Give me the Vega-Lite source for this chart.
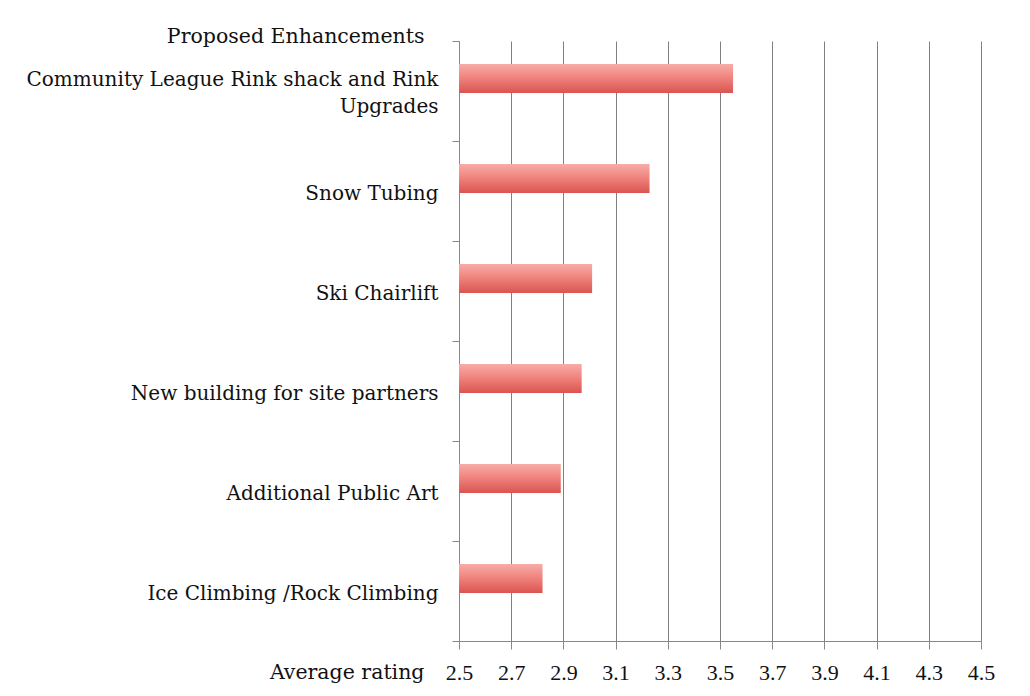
{
  "$schema": "https://vega.github.io/schema/vega-lite/v6.json",
  "width": 522,
  "height": 600,
  "autosize": "none",
  "padding": {"left": 459, "top": 41, "right": 49, "bottom": 55},
  "background": "white",
  "data": {
    "values": [
      {"enhancement": "Community League Rink shack and Rink Upgrades", "rating": 3.55},
      {"enhancement": "Snow Tubing", "rating": 3.23},
      {"enhancement": "Ski Chairlift", "rating": 3.01},
      {"enhancement": "New building for site partners", "rating": 2.97},
      {"enhancement": "Additional Public Art", "rating": 2.89},
      {"enhancement": "Ice Climbing /Rock Climbing", "rating": 2.82}
    ]
  },
  "mark": {
    "type": "bar",
    "height": {"band": 0.29},
    "yOffset": -12.5,
    "clip": true,
    "color": {
      "gradient": "linear",
      "x1": 0, "y1": 0, "x2": 0, "y2": 1,
      "stops": [
        {"offset": 0, "color": "#f7aca7"},
        {"offset": 0.45, "color": "#f0857f"},
        {"offset": 1, "color": "#da5450"}
      ]
    }
  },
  "encoding": {
    "y": {
      "field": "enhancement",
      "type": "nominal",
      "sort": null,
      "scale": {"paddingInner": 0, "paddingOuter": 0},
      "axis": {
        "title": "Proposed Enhancements",
        "titleAngle": 0,
        "titleX": -35,
        "titleY": -5,
        "titleAlign": "right",
        "titleBaseline": "middle",
        "titleFont": "DejaVu Serif",
        "titleFontSize": 20.5,
        "titleFontWeight": "normal",
        "titleColor": "#111",
        "labelFont": "DejaVu Serif",
        "labelFontSize": 20,
        "labelColor": "#111",
        "labelPadding": 14,
        "labelLimit": 500,
        "labelLineHeight": 27,
        "labelBaseline": "middle",
        "labelOffset": {"expr": "datum.value == 'Community League Rink shack and Rink Upgrades' ? -12 : 2"},
        "labelExpr": "datum.value == 'Community League Rink shack and Rink Upgrades' ? ['Community League Rink shack and Rink', 'Upgrades'] : datum.value",
        "tickBand": "extent",
        "tickSize": 7,
        "tickColor": "#888",
        "domainColor": "#888",
        "grid": false
      }
    },
    "x": {
      "field": "rating",
      "type": "quantitative",
      "scale": {"domain": [2.5, 4.5], "nice": false, "zero": false},
      "axis": {
        "values": [2.5, 2.7, 2.9, 3.1, 3.3, 3.5, 3.7, 3.9, 4.1, 4.3, 4.5],
        "format": ".1f",
        "title": "Average rating",
        "titleX": -35,
        "titleY": 31,
        "titleAlign": "right",
        "titleBaseline": "middle",
        "titleFont": "DejaVu Serif",
        "titleFontSize": 20.5,
        "titleFontWeight": "normal",
        "titleColor": "#111",
        "labelFont": "Liberation Serif",
        "labelFontSize": 22,
        "labelColor": "#111",
        "labelPadding": 23,
        "labelBaseline": "middle",
        "labelFlush": false,
        "tickSize": 8,
        "tickColor": "#888",
        "domainColor": "#888",
        "grid": true,
        "gridColor": "#808080",
        "gridOpacity": 1
      }
    }
  },
  "config": {
    "view": {"stroke": null}
  }
}
